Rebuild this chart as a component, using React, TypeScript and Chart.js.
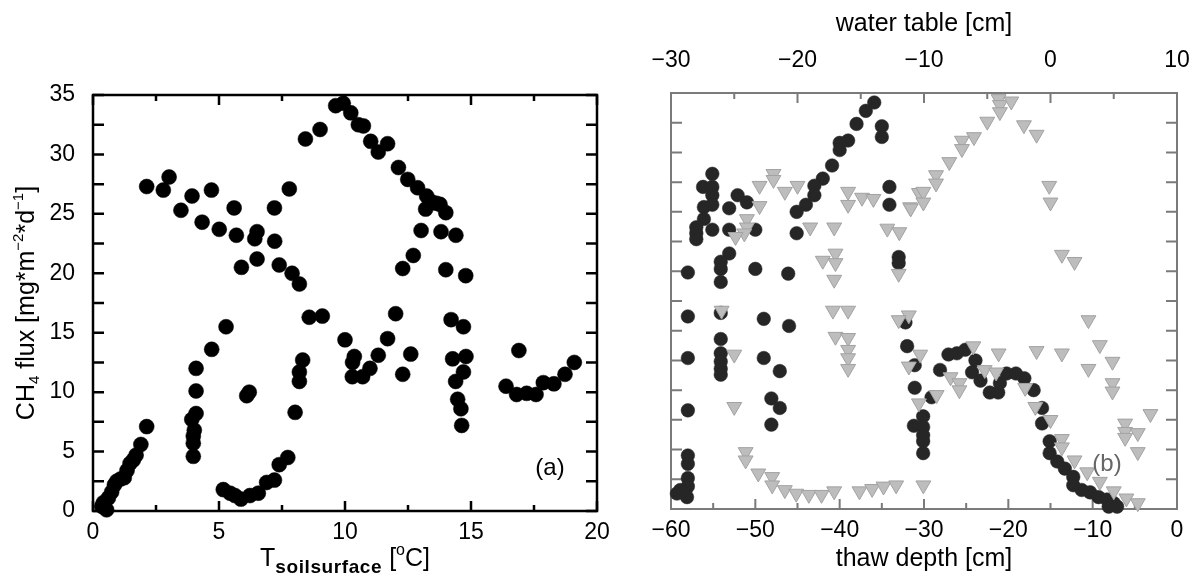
import React, { useEffect, useRef } from 'react';
import { Chart, registerables } from 'chart.js';
Chart.register(...registerables);

const FONT = '"Liberation Sans", Arial, Helvetica, sans-serif';

// ---------- Panel (a): CH4 flux vs soil surface temperature ----------
const soilTemp = [
  0.35, 0.41, 0.45, 0.54, 0.61, 0.74, 0.85, 0.94, 1.10, 1.24, 1.35, 1.47, 1.60, 1.71, 1.90, 2.13,
  3.98, 3.98, 3.98, 4.02, 3.92, 4.09, 4.09, 4.09, 4.71, 5.28,
  5.17, 5.44, 5.63, 5.87, 6.23, 6.56, 6.89, 7.20, 7.39, 7.73,
  6.10, 6.20, 8.02, 8.19, 8.19, 8.32, 8.58, 9.10,
  2.13, 2.79, 3.02, 3.49, 3.93, 4.70, 4.33, 5.01, 5.60, 5.69, 6.51, 6.42, 5.89, 6.51, 7.20, 7.21, 7.79, 7.39, 7.90, 8.19,
  8.43, 9.01, 9.63, 9.93, 10.23, 10.53, 10.73, 11.02, 11.32, 11.69, 12.12, 12.49, 12.88, 13.24, 13.37, 13.61, 13.77, 13.20, 14.00, 13.02, 13.81, 14.40, 12.71, 12.29, 14.00, 14.79,
  12.01, 14.21, 14.70, 10.00, 11.69, 10.37, 10.30, 10.29, 10.70, 10.99, 11.32, 12.29, 12.61, 14.27, 14.80, 14.70, 14.39, 14.47, 14.60, 14.63,
  16.39, 16.81, 17.21, 17.58, 17.87, 18.29, 18.73, 19.10, 16.90,
];
const fluxVsTemp = [
  0.4, 0.7, 0.3, 0.1, 1.1, 1.6, 2.2, 2.5, 2.7, 2.8, 3.4, 4.0, 4.3, 4.7, 5.6, 7.1,
  4.6, 5.7, 6.3, 6.8, 7.7, 8.2, 10.1, 12.0, 13.6, 15.5,
  1.8, 1.5, 1.3, 1.0, 1.3, 1.5, 2.4, 2.6, 3.9, 4.5,
  9.7, 10.0, 8.3, 10.9, 11.7, 12.7, 16.3, 16.4,
  27.3, 27.0, 28.1, 25.3, 26.5, 27.0, 24.3, 23.7, 25.5, 23.2, 23.5, 22.9, 20.5, 21.2, 25.5, 22.7, 27.1, 20.7, 20.0, 19.1,
  31.3, 32.1, 34.1, 34.3, 33.5, 32.5, 32.4, 31.1, 30.2, 30.9, 28.9, 27.9, 27.2, 26.5, 26.1, 25.9, 25.8, 25.4, 25.1, 23.6, 23.5, 23.2, 21.5, 20.4, 20.3, 19.8,
  16.6, 16.1, 15.5, 14.4, 14.5, 13.0, 12.5, 11.3, 11.3, 12.0, 13.1, 11.5, 13.2, 12.8, 13.0, 11.7, 10.9, 9.4, 8.6, 7.2,
  10.5, 9.8, 9.9, 9.8, 10.8, 10.7, 11.5, 12.5, 13.5,
];
const tempTicks = [0, 5, 10, 15, 20];
const tempMinor = [2.5, 7.5, 12.5, 17.5];
const fluxTicks = [0, 5, 10, 15, 20, 25, 30, 35];
const fluxMinor = [2.5, 7.5, 12.5, 17.5, 22.5, 27.5, 32.5];

// ---------- Panel (b): CH4 flux vs thaw depth (circles) and water table (triangles) ----------
const thawDepth = [
  -35.9, -36.9, -38.0, -39.0, -40.0, -40.0, -40.9, -42.0, -43.0, -43.0, -44.0, -45.1, -45.1,
  -35.0, -35.0, -34.1, -34.1, -33.0, -33.0,
  -55.1, -56.2, -55.1, -55.1, -55.1, -56.1, -56.1, -57.0, -57.0, -57.0, -55.1,
  -52.1, -51.0, -53.1, -53.1, -50.0, -53.1, -54.1, -54.1, -54.1, -50.0, -46.1,
  -58.0, -58.0, -54.1, -49.0, -46.0, -32.2,
  -54.1, -54.1, -54.1, -54.1, -54.1, -58.0, -49.0, -47.1, -48.1, -47.1, -48.1,
  -58.0, -58.0, -58.0, -58.0, -58.0, -58.9, -59.3, -58.1,
  -32.0, -31.1, -31.1, -31.2, -30.1, -30.1, -30.1, -30.1, -30.1,
  -29.1, -28.1, -27.1, -26.1, -25.1, -23.9, -24.3, -23.3, -22.2, -21.2, -21.0, -20.2, -19.1, -18.1, -17.0,
  -16.0, -16.0, -15.1, -15.1, -14.2, -13.3, -12.3, -12.3, -11.3, -10.3, -9.3, -8.3, -7.5, -8.1, -7.1,
];
const fluxVsThaw = [
  34.2, 33.5, 32.4, 31.0, 30.8, 30.2, 28.9, 27.8, 27.2, 26.4, 25.6, 25.0, 23.2,
  32.2, 31.3, 27.1, 25.6, 21.2, 20.7,
  28.2, 27.1, 27.1, 26.4, 25.6, 25.4, 24.4, 23.7, 23.2, 22.7, 23.5,
  26.4, 25.8, 25.3, 23.5, 23.5, 21.5, 20.8, 20.2, 19.1, 20.2, 19.8,
  19.9, 16.2, 16.5, 16.0, 15.4, 15.7,
  14.3, 13.1, 12.4, 11.8, 11.3, 12.7, 12.7, 11.6, 9.3, 8.5, 7.1,
  8.3, 4.5, 3.8, 2.6, 1.9, 1.6, 1.3, 1.0,
  13.7, 12.1, 10.2, 7.0, 7.8, 6.9, 6.2, 5.7, 4.7,
  9.4, 11.7, 13.0, 13.1, 13.4, 12.5, 11.5, 10.8, 9.8, 9.8, 10.6, 11.4, 11.4, 11.0, 10.0,
  8.5, 7.2, 5.7, 4.7, 4.0, 3.4, 2.7, 2.0, 1.6, 1.4, 1.0, 0.8, 0.5, 0.2, 0.2,
];
const waterTable = [
  -21.9, -21.9, -23.0, -21.0, -20.0, -23.0, -24.0, -24.0, -24.2, -24.9, -19.0, -17.1, -18.0, -17.0, -17.0, -17.1,
  -16.0, -16.0, -14.9, -14.0, -12.9, -11.95, -12.0, -11.1, -10.4, -17.2, -16.0, -26.0, -11.2, -12.0,
  -4.1, -4.0, -4.0, -3.1, -5.0, -2.1, -1.1, -6.05, -7.0, -7.0, -8.0, -9.05, -9.05, -10.05, -10.05, -11.05,
  -0.1, 0.0, 0.9, 1.9, 3.0,
  -17.0, -16.0, -16.0, -16.0, -16.0, -25.0, -25.0, -24.1, -24.1, -23.1, -22.0, -22.0, -21.0, -20.1, -19.1, -18.1, -17.1,
  -15.1, -14.1, -13.2, -12.2, -10.3, -11.2, -10.4,
  3.9, 4.9, 4.9, 4.9, 3.0, 0.9, -1.1, -4.1, -6.1, -7.9, -7.2, -7.2, -5.2, -4.3, -9.0, -2.0, -1.2, 0.0,
  0.9, 0.9, 1.9, 2.9, 3.9, 5.0, 6.0, 6.9, 5.9, 5.9, 5.9, 6.9, 6.9, 7.9, -10.05,
];
const fluxVsWater = [
  28.2, 27.7, 27.2, 26.7, 27.2, 25.5, 24.4, 23.7, 23.2, 22.9, 23.7, 23.7, 20.9, 21.5, 20.7, 19.3,
  26.7, 25.6, 26.2, 26.1, 23.6, 23.3, 19.8, 25.4, 26.6, 16.7, 16.7, 16.7, 16.3, 15.9,
  34.5, 34.0, 33.4, 34.3, 32.6, 32.3, 31.5, 31.3, 31.0, 30.3, 29.2, 28.1, 27.4, 26.7, 25.8, 25.3,
  27.2, 25.8, 21.4, 20.8, 15.9,
  14.5, 14.4, 13.4, 12.7, 11.8, 13.0, 8.6, 4.8, 4.1, 3.0, 2.7, 2.0, 1.6, 1.3, 1.2, 1.2, 1.5,
  1.5, 1.7, 1.9, 2.0, 13.0, 12.0, 8.9,
  13.8, 12.4, 10.6, 9.9, 11.8, 13.1, 13.3, 13.1, 13.7, 11.1, 10.6, 10.0, 11.7, 11.5, 9.6, 10.2, 8.6, 7.5,
  5.9, 5.2, 4.1, 3.1, 2.3, 1.5, 0.9, 0.5, 7.2, 6.5, 6.0, 6.4, 4.8, 8.0, 2.0,
];
const thawTicks = [-60, -50, -40, -30, -20, -10, 0];
const thawMinor = [-55, -45, -35, -25, -15, -5];
const waterTicks = [-30, -20, -10, 0, 10];
const waterMinor = [-25, -15, -5, 5];

type Seg = { t: string; size: number; dy: number; bold?: boolean; spacing?: number };

function drawRich(ctx: CanvasRenderingContext2D, segs: Seg[], cx: number, cy: number, rotate: boolean, color: string) {
  ctx.save();
  ctx.translate(cx, cy);
  if (rotate) ctx.rotate(-Math.PI / 2);
  ctx.fillStyle = color;
  ctx.textAlign = 'left';
  ctx.textBaseline = 'alphabetic';
  const setFont = (s: Seg) => {
    ctx.font = `${s.bold ? 'bold ' : ''}${s.size}px ${FONT}`;
    (ctx as any).letterSpacing = `${s.spacing || 0}px`;
  };
  let total = 0;
  const widths: number[] = [];
  for (const s of segs) {
    setFont(s);
    const w = ctx.measureText(s.t).width;
    widths.push(w);
    total += w;
  }
  let x = -total / 2;
  segs.forEach((s, i) => {
    setFont(s);
    ctx.fillText(s.t, x, s.dy);
    x += widths[i];
  });
  ctx.restore();
}

type FrameCfg = {
  color: string;
  width: number;
  bottom: { id: string; major: number[]; minor: number[] };
  top: { id: string; major: number[]; minor: number[] };
  yMajor: number[];
  yMinor: number[];
  xMajorLen: number;
  xMinorLen: number;
  yLen: number;
};

function framePlugin(cfg: FrameCfg, extra: (chart: any) => void) {
  return {
    id: 'frameTicks',
    beforeDatasetsDraw(chart: any) {
      const { ctx, chartArea: a } = chart;
      const ys = chart.scales.y;
      ctx.save();
      ctx.strokeStyle = cfg.color;
      ctx.lineWidth = cfg.width;
      ctx.strokeRect(a.left, a.top, a.right - a.left, a.bottom - a.top);
      ctx.beginPath();
      const hx = (id: string, vals: number[], len: number, atTop: boolean) => {
        const sc = chart.scales[id];
        for (const v of vals) {
          const px = sc.getPixelForValue(v);
          if (atTop) { ctx.moveTo(px, a.top); ctx.lineTo(px, a.top + len); }
          else { ctx.moveTo(px, a.bottom); ctx.lineTo(px, a.bottom - len); }
        }
      };
      hx(cfg.bottom.id, cfg.bottom.major, cfg.xMajorLen, false);
      hx(cfg.bottom.id, cfg.bottom.minor, cfg.xMinorLen, false);
      hx(cfg.top.id, cfg.top.major, cfg.xMajorLen, true);
      hx(cfg.top.id, cfg.top.minor, cfg.xMinorLen, true);
      for (const v of [...cfg.yMajor, ...cfg.yMinor]) {
        const py = ys.getPixelForValue(v);
        ctx.moveTo(a.left, py); ctx.lineTo(a.left + cfg.yLen, py);
        ctx.moveTo(a.right, py); ctx.lineTo(a.right - cfg.yLen, py);
      }
      ctx.stroke();
      ctx.restore();
    },
    afterDraw(chart: any) {
      extra(chart);
    },
  };
}

const minusify = (v: any) => String(v).replace('-', '\u2212');
const fixH = (h: number) => (s: any) => { s.height = h; s.paddingLeft = 0; s.paddingRight = 0; };

function ChartA() {
  const ref = useRef<HTMLCanvasElement>(null);
  useEffect(() => {
    const data = soilTemp.map((t, i) => ({ x: t, y: fluxVsTemp[i] }));
    const chart = new Chart(ref.current!, {
      type: 'scatter',
      data: {
        datasets: [{
          data,
          backgroundColor: '#000',
          borderColor: '#000',
          pointRadius: 7.5,
          borderWidth: 0.5,
          clip: false as any,
        }],
      },
      options: {
        responsive: false,
        animation: false,
        layout: { padding: { left: 0, right: 23, top: 95, bottom: 0 } },
        plugins: { legend: { display: false }, tooltip: { enabled: false } },
        scales: {
          x: {
            type: 'linear', min: 0, max: 20,
            afterFit: fixH(70),
            afterBuildTicks: (s: any) => { s.ticks = tempTicks.map((v) => ({ value: v })); },
            grid: { display: false, drawTicks: false },
            border: { display: false },
            ticks: { color: '#000', font: { family: FONT, size: 23 }, padding: 8, autoSkip: false, maxRotation: 0 },
          },
          y: {
            type: 'linear', min: 0, max: 35,
            afterFit: (s: any) => { s.width = 93; s.paddingTop = 0; s.paddingBottom = 0; },
            afterBuildTicks: (s: any) => { s.ticks = fluxTicks.map((v) => ({ value: v })); },
            grid: { display: false, drawTicks: false },
            border: { display: false },
            ticks: { color: '#000', font: { family: FONT, size: 23 }, padding: 18, autoSkip: false },
          },
        },
      },
      plugins: [framePlugin({
        color: '#000', width: 2.5,
        bottom: { id: 'x', major: tempTicks, minor: tempMinor },
        top: { id: 'x', major: tempTicks, minor: tempMinor },
        yMajor: fluxTicks, yMinor: fluxMinor,
        xMajorLen: 10, xMinorLen: 6, yLen: 11,
      }, (chart: any) => {
        const ctx = chart.ctx;
        const a = chart.chartArea;
        drawRich(ctx, [
          { t: 'T', size: 25, dy: 0 },
          { t: 'soilsurface', size: 19, dy: 7, bold: true, spacing: 0.6 },
          { t: ' [', size: 25, dy: 0 },
          { t: 'o', size: 16, dy: -11 },
          { t: 'C]', size: 25, dy: 0 },
        ], (a.left + a.right) / 2, 566, false, '#000');
        drawRich(ctx, [
          { t: 'CH', size: 25, dy: 0 },
          { t: '4', size: 15, dy: 5 },
          { t: ' flux [mg*m', size: 25, dy: 0 },
          { t: '\u22122', size: 15, dy: -11 },
          { t: '*d', size: 25, dy: 0 },
          { t: '\u22121', size: 15, dy: -11 },
          { t: ']', size: 25, dy: 0 },
        ], 34, (a.top + a.bottom) / 2, true, '#000');
        ctx.save();
        ctx.font = `24px ${FONT}`;
        ctx.fillStyle = '#000';
        ctx.textAlign = 'center';
        ctx.textBaseline = 'alphabetic';
        ctx.fillText('(a)', 550, 475);
        ctx.restore();
      })],
    } as any);
    return () => chart.destroy();
  }, []);
  return <canvas ref={ref} width={620} height={581} style={{ position: 'absolute', left: 0, top: 0 }} />;
}

function ChartB() {
  const ref = useRef<HTMLCanvasElement>(null);
  useEffect(() => {
    const circles = thawDepth.map((t, i) => ({ x: t, y: fluxVsThaw[i] }));
    const tris = waterTable.map((w, i) => ({ x: w, y: fluxVsWater[i] }));
    const chart = new Chart(ref.current!, {
      type: 'scatter',
      data: {
        datasets: [
          {
            data: tris,
            xAxisID: 'x2',
            pointStyle: 'triangle',
            rotation: 180,
            pointRadius: 8.6,
            backgroundColor: '#bdbdbd',
            borderColor: '#a2a2a2',
            borderWidth: 1,
            clip: false as any,
          },
          {
            data: circles,
            xAxisID: 'x',
            pointRadius: 6.8,
            backgroundColor: '#262626',
            borderColor: '#262626',
            borderWidth: 0.5,
            clip: false as any,
          },
        ],
      },
      options: {
        responsive: false,
        animation: false,
        layout: { padding: { left: 51, right: 19, top: 0, bottom: 0 } },
        plugins: { legend: { display: false }, tooltip: { enabled: false } },
        scales: {
          x: {
            type: 'linear', position: 'bottom', min: -60, max: 0,
            afterFit: fixH(72),
            afterBuildTicks: (s: any) => { s.ticks = thawTicks.map((v) => ({ value: v })); },
            grid: { display: false, drawTicks: false },
            border: { display: false },
            ticks: { color: '#000', font: { family: FONT, size: 23 }, padding: 8, autoSkip: false, maxRotation: 0, callback: (v: any) => minusify(v) },
          },
          x2: {
            type: 'linear', position: 'top', min: -30, max: 10,
            afterFit: fixH(93),
            afterBuildTicks: (s: any) => { s.ticks = waterTicks.map((v) => ({ value: v })); },
            grid: { display: false, drawTicks: false },
            border: { display: false },
            ticks: { color: '#000', font: { family: FONT, size: 23 }, padding: 19, autoSkip: false, maxRotation: 0, callback: (v: any) => minusify(v) },
          },
          y: {
            type: 'linear', min: 0, max: 35, display: false,
          },
        },
      },
      plugins: [framePlugin({
        color: '#7a7a7a', width: 2,
        bottom: { id: 'x', major: thawTicks, minor: thawMinor },
        top: { id: 'x2', major: waterTicks, minor: waterMinor },
        yMajor: fluxTicks, yMinor: fluxMinor,
        xMajorLen: 10, xMinorLen: 6, yLen: 11,
      }, (chart: any) => {
        const ctx = chart.ctx;
        const a = chart.chartArea;
        const cx = (a.left + a.right) / 2;
        drawRich(ctx, [{ t: 'thaw depth [cm]', size: 25, dy: 0 }], cx, 566, false, '#000');
        drawRich(ctx, [{ t: 'water table [cm]', size: 25, dy: 0 }], cx, 31, false, '#000');
        ctx.save();
        ctx.font = `24px ${FONT}`;
        ctx.fillStyle = '#666';
        ctx.textAlign = 'center';
        ctx.textBaseline = 'alphabetic';
        ctx.fillText('(b)', 487, 471);
        ctx.restore();
      })],
    } as any);
    return () => chart.destroy();
  }, []);
  return <canvas ref={ref} width={576} height={581} style={{ position: 'absolute', left: 620, top: 0 }} />;
}

export default function App() {
  return (
    <div style={{ position: 'absolute', left: 0, top: 0, width: 1196, height: 581, background: '#fff', overflow: 'hidden' }}>
      <ChartA />
      <ChartB />
    </div>
  );
}
